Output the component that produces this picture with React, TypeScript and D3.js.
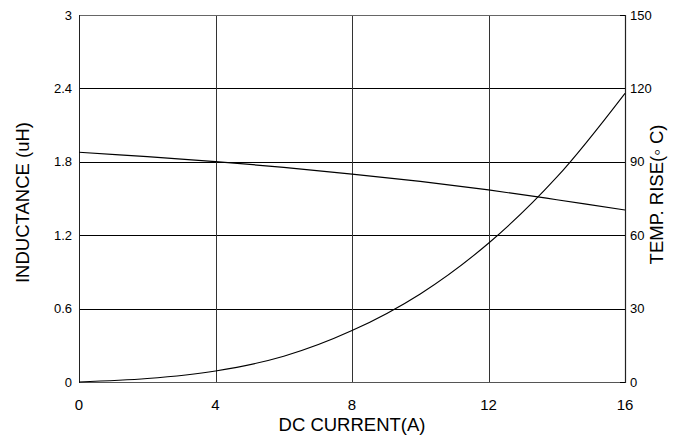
import React from "react";
import * as d3 from "d3";

const currentTicks = [0, 4, 8, 12, 16];
const inductanceTicks = [0, 0.6, 1.2, 1.8, 2.4, 3];
const tempTicks = [0, 30, 60, 90, 120, 150];

const inductanceX = [0, 2, 4, 6, 8, 10, 12, 14, 16];
const inductanceY = [1.878, 1.842, 1.802, 1.755, 1.70, 1.64, 1.57, 1.49, 1.406];

const tempX = [0, 2, 4, 6, 8, 10, 12, 14, 16];
const tempY = [0, 1.4, 4.5, 10.5, 21, 36, 56.7, 83.7, 118];

const W = 681;
const H = 443;
const L = 79, R = 625, T = 15, B = 382;
const font = "Liberation Sans, Arial, Helvetica, sans-serif";

export default function App() {
  const x = d3.scaleLinear().domain([0, 16]).range([L, R]);
  const yL = d3.scaleLinear().domain([0, 3]).range([B, T]);
  const yR = d3.scaleLinear().domain([0, 150]).range([B, T]);

  const indPts: [number, number][] = inductanceX.map((v, i) => [v, inductanceY[i]]);
  const tmpPts: [number, number][] = tempX.map((v, i) => [v, tempY[i]]);

  const indLine = d3
    .line<[number, number]>()
    .x((d) => x(d[0]))
    .y((d) => yL(d[1]))
    .curve(d3.curveCatmullRom.alpha(0.5))(indPts) as string;
  const tmpLine = d3
    .line<[number, number]>()
    .x((d) => x(d[0]))
    .y((d) => yR(d[1]))
    .curve(d3.curveCatmullRom.alpha(0.5))(tmpPts) as string;

  return (
    <svg
      width={W}
      height={H}
      style={{ position: "absolute", left: 0, top: 0, background: "#fff" }}
      fontFamily={font}
    >
      <rect x={0} y={0} width={W} height={H} fill="#fff" />
      {inductanceTicks.slice(1, -1).map((t) => (
        <line key={"h" + t} x1={L} x2={R} y1={Math.round(yL(t)) + 0.5} y2={Math.round(yL(t)) + 0.5} stroke="#000" strokeWidth={1} />
      ))}
      {currentTicks.slice(1, -1).map((t) => (
        <line key={"v" + t} x1={Math.round(x(t)) + 0.5} x2={Math.round(x(t)) + 0.5} y1={T} y2={B} stroke="#333" strokeWidth={1} />
      ))}
      <line x1={L} x2={R} y1={T + 0.5} y2={T + 0.5} stroke="#666" strokeWidth={1} />
      <line x1={L} x2={R} y1={B + 0.5} y2={B + 0.5} stroke="#555" strokeWidth={1} />
      <line x1={L + 0.5} x2={L + 0.5} y1={T} y2={B + 1} stroke="#222" strokeWidth={1} />
      <line x1={R + 0.5} x2={R + 0.5} y1={T} y2={B + 1} stroke="#222" strokeWidth={1.2} />
      {tempTicks.map((t) => (
        <line key={"rt" + t} x1={R - 5} x2={R} y1={Math.round(yR(t)) + 0.5} y2={Math.round(yR(t)) + 0.5} stroke="#000" strokeWidth={1} />
      ))}
      <path d={indLine} fill="none" stroke="#000" strokeWidth={1.2} />
      <path d={tmpLine} fill="none" stroke="#000" strokeWidth={1.1} />
      {inductanceTicks.map((t) => (
        <text key={"lt" + t} x={72} y={yL(t)} dy="0.35em" textAnchor="end" fontSize={13} fill="#000">
          {String(t)}
        </text>
      ))}
      {tempTicks.map((t) => (
        <text key={"rl" + t} x={630} y={yR(t)} dy="0.35em" textAnchor="start" fontSize={13} fill="#000">
          {String(t)}
        </text>
      ))}
      {currentTicks.map((t) => (
        <text key={"bt" + t} x={x(t)} y={410} textAnchor="middle" fontSize={15} fill="#000">
          {String(t)}
        </text>
      ))}
      <text x={(L + R) / 2} y={431} textAnchor="middle" fontSize={18.5} fill="#000">
        DC CURRENT(A)
      </text>
      <text transform={`translate(29,${(T + B) / 2 + 4}) rotate(-90)`} textAnchor="middle" fontSize={18.5} fill="#000">
        INDUCTANCE (uH)
      </text>
      <text transform={`translate(663,${(T + B) / 2 - 4}) rotate(-90)`} textAnchor="middle" fontSize={18.5} fill="#000">
        TEMP. RISE(◦ C)
      </text>
    </svg>
  );
}
